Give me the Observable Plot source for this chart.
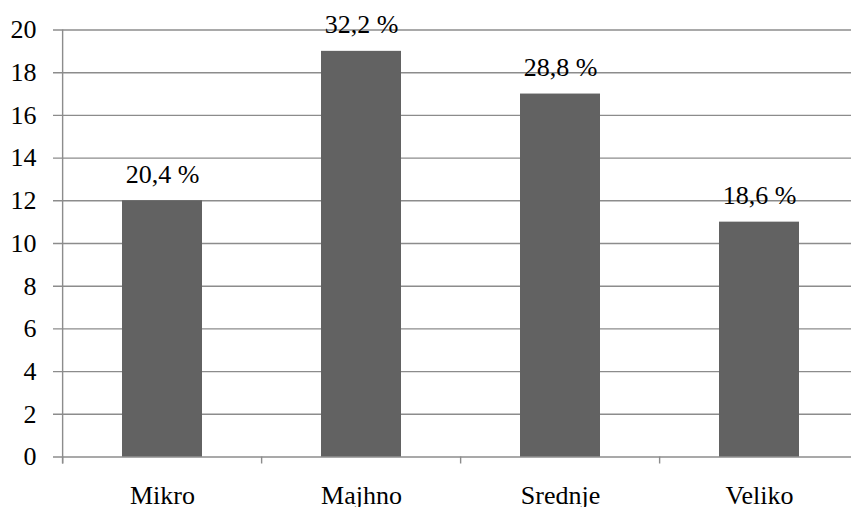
<!DOCTYPE html>
<html>
<head>
<meta charset="utf-8">
<script src="https://cdn.jsdelivr.net/npm/d3@7"></script>
<script src="https://cdn.jsdelivr.net/npm/@observablehq/plot@0.6"></script>
<style>
  html, body { margin: 0; padding: 0; background: #fff; font-family: "Liberation Serif"; }
  #chart svg text { font-family: "Liberation Serif" !important; }
</style>
</head>
<body>
<div id="chart"></div>
<script>
// Company size classes, number of companies in each, and their share of the total
const categories = ["Mikro", "Majhno", "Srednje", "Veliko"];
const counts = [12, 19, 17, 11];
const shareLabels = ["20,4 %", "32,2 %", "28,8 %", "18,6 %"];
const yTicks = [0, 2, 4, 6, 8, 10, 12, 14, 16, 18, 20];

const data = categories.map((category, i) => ({
  category,
  count: counts[i],
  label: shareLabels[i]
}));

const left = 61;
const right = 860;
const step = (right - left) / categories.length;
const lineColor = "#8c8c8c";
const serif = "Liberation Serif";

const chart = Plot.plot({
  width: 851,
  height: 507,
  marginTop: 29.5,
  marginBottom: 50.5,
  marginLeft: left,
  marginRight: 0,
  style: { fontSize: "26px", background: "#fff", color: "#000", overflow: "hidden" },
  x: { domain: categories, range: [left, right], paddingInner: 0.6, paddingOuter: 0.3, label: null },
  y: { domain: [0, 20], label: null },
  marks: [
    // horizontal gridlines, extending a little left of the axis as ticks
    Plot.ruleY(yTicks, { stroke: lineColor, strokeWidth: 1.4, insetLeft: -8 }),
    Plot.barY(data, { x: "category", y: "count", fill: "#626262" }),
    // vertical axis line
    Plot.ruleX(categories.slice(0, 1), { x: (d) => d, dx: -step / 2, stroke: lineColor, strokeWidth: 1.4, insetBottom: -7 }),
    // short tick marks between categories, below the zero line
    Plot.axisX({ tickSize: 7, dx: -step / 2, color: lineColor, strokeWidth: 1.4, tickFormat: () => "", label: null }),
    // category names
    Plot.axisX({ tickSize: 0, tickPadding: 29, fontSize: 26, color: "#000", label: null }),
    Plot.axisY({ ticks: yTicks, tickSize: 0, tickPadding: 25, fontSize: 26, color: "#000", label: null }),
    // share labels above the bars
    Plot.text(data, { x: "category", y: "count", text: "label", dy: -26.3, fontSize: 26, fill: "#000" })
  ]
});

// serif typeface on the root and on every text node
chart.setAttribute("font-family", serif);
chart.style.fontFamily = serif;
chart.querySelectorAll("g, text").forEach((el) => {
  if (el.hasAttribute("font-family")) el.setAttribute("font-family", serif);
});
chart.querySelectorAll("text").forEach((t) => {
  t.setAttribute("font-family", serif);
  t.style.fontFamily = serif;
});

document.getElementById("chart").append(chart);
</script>
</body>
</html>
